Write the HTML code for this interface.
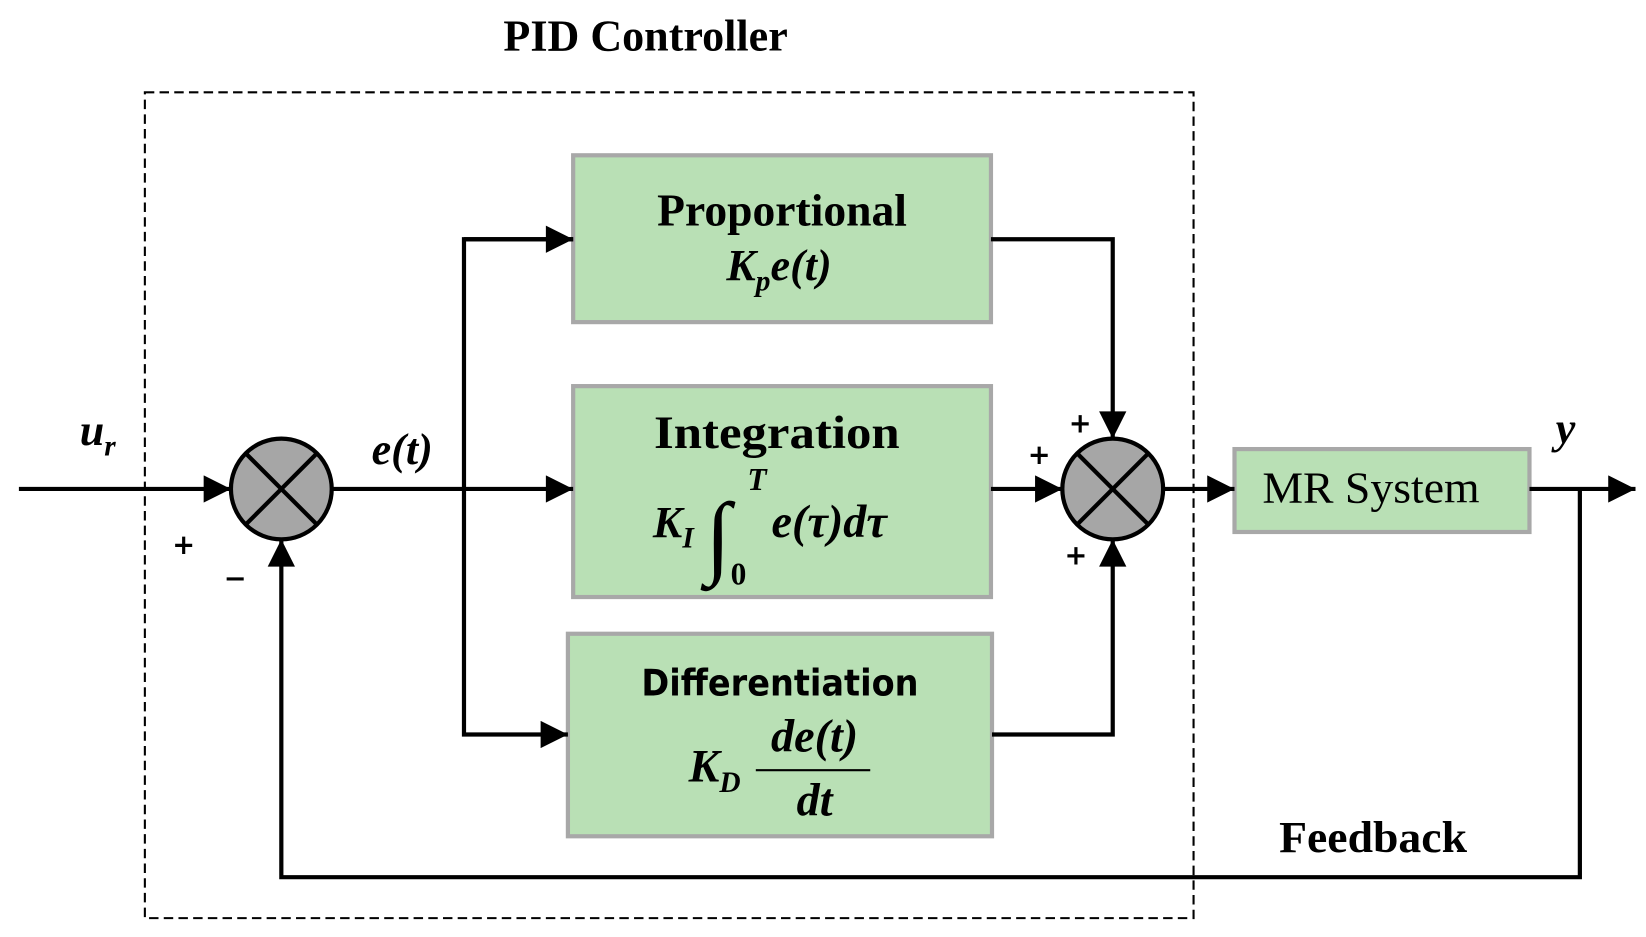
<!DOCTYPE html>
<html><head><meta charset="utf-8"><style>html,body{margin:0;padding:0;background:#fff}svg{display:block}</style></head>
<body>
<svg width="1646" height="937" viewBox="0 0 1568 893" preserveAspectRatio="none" xmlns="http://www.w3.org/2000/svg">
<defs>
<marker id="b" viewBox="0 0 10 10" refX="10" refY="5" markerWidth="28" markerHeight="26" orient="auto" markerUnits="userSpaceOnUse"><path d="M0,0 L10,5 L0,10 z" fill="#000"/></marker></defs>
<g font-family="Liberation Serif, serif" font-weight="bold">
<text x="615" y="48" font-size="42" text-anchor="middle">PID Controller</text>
</g>
<rect x="138" y="88" width="999" height="787" fill="none" stroke="#000" stroke-width="2" stroke-dasharray="9,5"/>
<g fill="#b9e0b5" stroke="#a8a8a8" stroke-width="4">
<rect x="546" y="148" width="398" height="159"/>
<rect x="546" y="368" width="398" height="201"/>
<rect x="541" y="604" width="404" height="193"/>
<rect x="1176" y="428" width="281" height="79"/>
</g>
<g stroke="#000" stroke-width="4" fill="none">
<line x1="18" y1="466" x2="220" y2="466" marker-end="url(#b)"/>
<line x1="316" y1="466" x2="546" y2="466" marker-end="url(#b)"/>
<polyline points="546,228 442,228 442,700 541,700" marker-end="url(#b)"/>
<line x1="442" y1="228" x2="546" y2="228" marker-end="url(#b)"/>
<polyline points="944,228 1060,228 1060,418" marker-end="url(#b)"/>
<polyline points="945,700 1060,700 1060,514" marker-end="url(#b)"/>
<line x1="944" y1="466" x2="1012" y2="466" marker-end="url(#b)"/>
<line x1="1108" y1="466" x2="1176" y2="466" marker-end="url(#b)"/>
<line x1="1457" y1="466" x2="1558" y2="466" marker-end="url(#b)"/>
<polyline points="1505,466 1505,836 268,836 268,514" marker-end="url(#b)"/>
</g>
<g stroke="#000" stroke-width="4">
<circle cx="268" cy="466" r="48" fill="#a6a6a6"/>
<line x1="234" y1="432" x2="302" y2="500"/><line x1="302" y1="432" x2="234" y2="500"/>
<circle cx="1060" cy="466" r="48" fill="#a6a6a6"/>
<line x1="1026" y1="432" x2="1094" y2="500"/><line x1="1094" y1="432" x2="1026" y2="500"/>
</g>
<g font-family="Liberation Serif, serif" font-weight="bold">
<text x="745" y="215" font-size="43" text-anchor="middle" textLength="238" lengthAdjust="spacingAndGlyphs">Proportional</text>
<text x="692" y="267" font-size="42" font-style="italic">K<tspan font-size="28" dy="10">p</tspan><tspan dy="-10">e(t)</tspan></text>
<text x="740" y="427" font-size="44" text-anchor="middle" textLength="234" lengthAdjust="spacingAndGlyphs">Integration</text>
<text x="622" y="512" font-size="42" font-style="italic">K<tspan font-size="28" dy="10">I</tspan></text>
<text x="672" y="540" font-size="88" font-style="italic" font-weight="normal">∫</text>
<text x="712" y="467" font-size="30" font-style="italic">T</text>
<text x="696" y="557" font-size="30">0</text>
<text x="735" y="512" font-size="44" font-style="italic">e(τ)dτ</text>
<text x="743" y="663" font-size="35" text-anchor="middle" font-family="DejaVu Sans, sans-serif" textLength="264" lengthAdjust="spacingAndGlyphs">Differentiation</text>
<text x="656" y="745" font-size="44" font-style="italic">K<tspan font-size="28" dy="10">D</tspan></text>
<text x="776" y="716" font-size="44" font-style="italic" text-anchor="middle">de(t)</text>
<line x1="720" y1="734" x2="829" y2="734" stroke="#000" stroke-width="2"/>
<text x="776" y="777" font-size="44" font-style="italic" text-anchor="middle">dt</text>
<text x="1306" y="479" font-size="42" font-weight="normal" text-anchor="middle" textLength="207" lengthAdjust="spacingAndGlyphs">MR System</text>
<text x="76" y="424" font-size="42" font-style="italic">u<tspan font-size="28" dy="10">r</tspan></text>
<text x="354" y="442" font-size="42" font-style="italic">e(t)</text>
<text x="1482" y="422" font-size="42" font-style="italic">y</text>
<text x="1308" y="812" font-size="42" text-anchor="middle" textLength="179" lengthAdjust="spacingAndGlyphs">Feedback</text>
</g>
<g font-family="DejaVu Sans, sans-serif" font-weight="bold" font-size="26" text-anchor="middle">
<text x="175" y="528">+</text><text x="224" y="560">−</text>
<text x="1029" y="412">+</text><text x="990" y="442">+</text><text x="1025" y="538">+</text>
</g>
</svg>
</body></html>
